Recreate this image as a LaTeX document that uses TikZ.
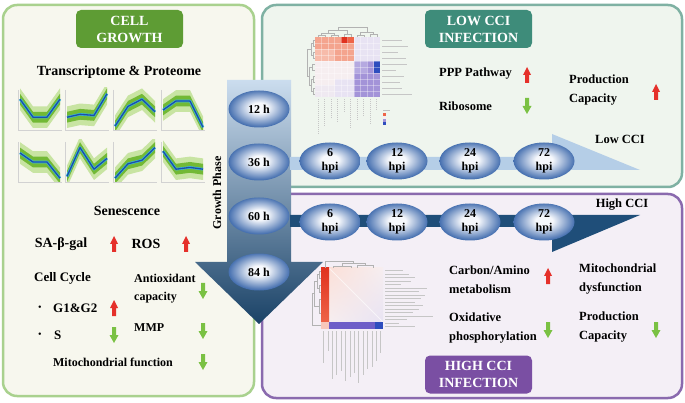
\documentclass[tikz,border=0pt]{standalone}
\usepackage{fontspec}
\setmainfont{Liberation Serif}
\usetikzlibrary{shapes.geometric,shadings,positioning}

\definecolor{growthline}{HTML}{A9D18E}
\definecolor{growthfill}{HTML}{F7F7EE}
\definecolor{growthtag}{HTML}{5E9C34}
\definecolor{lowline}{HTML}{7FB1A3}
\definecolor{lowfill}{HTML}{EFF5EE}
\definecolor{lowtag}{HTML}{3E8C7A}
\definecolor{highline}{HTML}{8A6AAE}
\definecolor{highfill}{HTML}{F4EFF6}
\definecolor{hightag}{HTML}{7A4FA3}
\definecolor{lowblue}{HTML}{B5CEE7}
\definecolor{highblue}{HTML}{1F4E79}
\definecolor{stagein}{HTML}{F6F8FC}
\definecolor{stageout}{HTML}{4670B0}
\definecolor{upred}{HTML}{E5302A}
\definecolor{downgreen}{HTML}{7AC143}
\definecolor{bandlight}{HTML}{C8E4A2}
\definecolor{bandgreen}{HTML}{72B935}
\definecolor{linelight}{HTML}{35B4E0}
\definecolor{linedark}{HTML}{1E4FA5}
\definecolor{hmpale}{HTML}{F6EEF0}
\definecolor{hmred}{HTML}{F4A48E}
\definecolor{hmdeep}{HTML}{E0321F}
\definecolor{hmmid}{HTML}{EE6448}
\definecolor{hmlav}{HTML}{E8E3F3}
\definecolor{hmpurple}{HTML}{A393D8}
\definecolor{hmblue}{HTML}{2E4DBE}
\definecolor{hmbar}{HTML}{6E5EC8}

\pgfdeclareradialshading{stageball}{\pgfpoint{0bp}{2bp}}{color(0bp)=(stagein); color(7bp)=(stagein); color(25bp)=(stageout); color(50bp)=(stageout)}

\newcommand{\trendplot}[6]{%
  \begin{scope}[shift={(#1,#2)}]
    \draw[gray!35,line width=.3pt] (0,2) -- (0,42) -- (44,42);
    \begin{scope}
      \clip (1,0) rectangle (44,42);
      \foreach \w/\c in {.3/bandlight,.15/bandgreen}
        \fill[\c] (2,{40-36*(#3+\w)}) -- (15,{40-36*(#4+\w)}) -- (29,{40-36*(#5+\w)}) -- (42,{40-36*(#6+\w)})
          -- (42,{40-36*(#6-\w)}) -- (29,{40-36*(#5-\w)}) -- (15,{40-36*(#4-\w)}) -- (2,{40-36*(#3-\w)}) -- cycle;
    \end{scope}
    \draw[linelight,line width=2.6pt,line join=round] (2,{40-36*#3}) -- (15,{40-36*#4}) -- (29,{40-36*#5}) -- (42,{40-36*#6});
    \draw[linedark,line width=1.3pt,line join=round] (2,{40-36*#3}) -- (15,{40-36*#4}) -- (29,{40-36*#5}) -- (42,{40-36*#6});
  \end{scope}}

\begin{document}
\begin{tikzpicture}[x=1pt,y=-1pt,
  panel/.style={rounded corners=14pt,line width=2.5pt},
  tag/.style={rounded corners=5pt,text=white,align=center,minimum width=107pt,minimum height=38pt,font=\fontsize{14}{17}\selectfont\bfseries},
  stage/.style={ellipse,minimum width=61pt,minimum height=37pt,inner sep=0pt,shading=stageball,align=center,font=\fontsize{12}{14}\selectfont\bfseries},
  head/.style={font=\fontsize{14}{16}\selectfont\bfseries},
  txt/.style={inner sep=0pt,anchor=west,align=left,font=\fontsize{12.5}{19}\selectfont\bfseries},
  small/.style={inner sep=0pt,anchor=west,align=left,font=\fontsize{12}{18}\selectfont\bfseries},
  dendro/.style={gray!60,line width=.3pt},
  lbl/.style={gray!45,line width=.6pt,dash pattern=on 1.5pt off .5pt},
  uparrow/.pic={\fill[upred] (-2,8) -- (-2,0) -- (-4,0) -- (0,-8) -- (4,0) -- (2,0) -- (2,8) -- cycle;},
  downarrow/.pic={\fill[downgreen] (-2,-8) -- (-2,0) -- (-4.5,0) -- (0,8) -- (4.5,0) -- (2,0) -- (2,-8) -- cycle;}]
\useasboundingbox (0,0) rectangle (685,403);
\fill[white] (0,0) rectangle (685,403);

\draw[panel,growthline,fill=growthfill] (3,5) rectangle (254,396);
\draw[panel,lowline,fill=lowfill] (262,5) rectangle (682,187);
\draw[panel,highline,fill=highfill] (262,194) rectangle (682,398);

\node[tag,fill=growthtag] (growthtag) at (129.5,29) {CELL\\GROWTH};
\node[tag,fill=lowtag] (lowtag) at (478.5,29) {LOW CCI\\INFECTION};
\node[tag,fill=hightag] (hightag) at (478.5,374.5) {HIGH CCI\\INFECTION};

\node[head] (omics) at (119,72) {Transcriptome \& Proteome};
\trendplot{18}{88}{.8}{.3}{.3}{.8}
\trendplot{65}{88}{.3}{.38}{.35}{.95}
\trendplot{113}{88}{.05}{.6}{.8}{.45}
\trendplot{161}{88}{.5}{.75}{.75}{.02}
\trendplot{18}{140}{.75}{.5}{.5}{.05}
\trendplot{65}{140}{.1}{.9}{.3}{.6}
\trendplot{113}{140}{.05}{.45}{.55}{.9}
\trendplot{161}{140}{.8}{.3}{.35}{.3}

\node[head] (senescence) at (127,211) {Senescence};
\node[head] (sagal) at (61,244) {SA-β-gal};
\pic at (114,244) {uparrow};
\node[head] (ros) at (146,244) {ROS};
\pic at (186,244) {uparrow};
\node[txt,font=\fontsize{13}{15}\selectfont\bfseries] (cellcycle) at (34,278) {Cell Cycle};
\node[small] (antiox) at (134,289) {Antioxidant\\capacity};
\pic at (203,291) {downarrow};
\node (bulletg) at (40,308) {•};
\node[txt,font=\fontsize{13}{15}\selectfont\bfseries] (g1g2) at (53,308) {G1\&G2};
\pic at (114,308) {uparrow};
\node (bullets) at (40,335) {•};
\node[txt,font=\fontsize{13}{15}\selectfont\bfseries] (sphase) at (54,335) {S};
\pic at (114,335) {downarrow};
\node[small] (mmp) at (134,328) {MMP};
\pic at (203,331) {downarrow};
\node[font=\fontsize{12}{14}\selectfont\bfseries] (mitofunc) at (113,362) {Mitochondrial function};
\pic at (203,362) {downarrow};

\begin{scope}[shift={(315,37)}]
  \fill[hmpale] (0,0) rectangle (65,60);
  \fill[hmlav] (39,0) rectangle (65,24);
  \fill[hmlav] (19.5,42) rectangle (39,60);
  \fill[hmlav!50!hmpale] (0,48) rectangle (19.5,60);
  \fill[hmred] (0,0) rectangle (39,24);
  \fill[hmred!75!white] (0,12) rectangle (19.5,24);
  \fill[hmdeep] (26,0) rectangle (32.5,6);
  \fill[hmmid] (32.5,0) rectangle (39,6);
  \fill[hmpurple] (39,24) rectangle (65,60);
  \fill[hmpurple!80!white] (39,24) rectangle (52,36);
  \fill[hmblue] (58.5,24) rectangle (65,36);
  \foreach \i in {1,...,9} {
    \draw[white,opacity=.35,line width=.2pt] ({6.5*\i},0) -- ({6.5*\i},60);
    \draw[white,opacity=.35,line width=.2pt] (0,{6*\i}) -- (65,{6*\i});
  }
  \draw[dendro] (3.25,0) |- (9.75,-2) -- (9.75,0);
  \draw[dendro] (16.25,0) |- (22.75,-2) -- (22.75,0);
  \draw[dendro] (6.5,-2) |- (19.5,-4) -- (19.5,-2);
  \draw[dendro] (29.25,0) |- (35.75,-3) -- (35.75,0);
  \draw[dendro] (13,-4) |- (32.5,-7) -- (32.5,-3);
  \draw[dendro] (42.25,0) |- (48.75,-2) -- (48.75,0);
  \draw[dendro] (55.25,0) |- (61.75,-3) -- (61.75,0);
  \draw[dendro] (45.5,-2) |- (58.5,-5) -- (58.5,-3);
  \draw[dendro] (22.75,-7) |- (52,-10) -- (52,-5);
  \draw[dendro] (0,3) -| (-2,9) -- (0,9);
  \draw[dendro] (0,15) -| (-2,21) -- (0,21);
  \draw[dendro] (-2,6) -| (-4,18) -- (-2,18);
  \draw[dendro] (0,27) -| (-3,33) -- (0,33);
  \draw[dendro] (0,39) -| (-2,45) -- (0,45);
  \draw[dendro] (0,51) -| (-2,57) -- (0,57);
  \draw[dendro] (-2,42) -| (-4,54) -- (-2,54);
  \draw[dendro] (-3,30) -| (-6,48) -- (-4,48);
  \draw[dendro] (-4,12) -| (-8,39) -- (-6,39);
  \foreach \l [count=\r] in {20,26,16,24,25,14,22,18,20,30}
    \draw[lbl] (67,{6*\r-3}) -- ++(\l,0);
  \foreach \l [count=\c] in {36,28,20,24,14,30,22,18,26,12}
    \draw[lbl] ({6.5*\c-3.25},62) -- ++(0,\l);
  \fill[gray!50] (68,73) rectangle (75,74.5);
  \fill[hmmid] (68,76) rectangle (71,79);
  \fill[hmpale] (68,79) rectangle (71,82);
  \fill[hmpurple] (68,82) rectangle (71,85);
  \fill[hmblue] (68,85) rectangle (71,88);
\end{scope}

\node[txt] (ppp) at (439,74) {PPP Pathway};
\pic at (527,75) {uparrow};
\node[txt] (ribosome) at (439,106) {Ribosome};
\pic at (527,106) {downarrow};
\node[txt] (lowprod) at (569,90.5) {Production\\Capacity};
\pic at (656,92) {uparrow};
\node[txt,anchor=center] (lowcci) at (620,139) {Low CCI};
\node[txt,anchor=center] (highcci) at (622,205) {High CCI};

\begin{scope}[shift={(321,268)}]
  \shade[upper left=hmred!35!white,lower right=hmlav,upper right=hmpale,lower left=hmpale] (8,0) rectangle (62,54);
  \draw[white,opacity=.6,line width=.8pt] (8,0) -- (62,54);
  \shade[top color=hmdeep,bottom color=hmmid] (0,0) rectangle (8,54);
  \fill[hmred!60!white] (0,54) rectangle (8,61);
  \fill[hmbar] (8,54) rectangle (54,61);
  \fill[hmblue] (54,54) rectangle (62,61);
  \draw[dendro] (0,3) -| (-2,10) -- (0,10);
  \draw[dendro] (0,17) -| (-2,24) -- (0,24);
  \draw[dendro] (-2,6) -| (-4,20) -- (-2,20);
  \draw[dendro] (0,31) -| (-2,45) -- (0,45);
  \draw[dendro] (-4,13) -| (-7,38) -- (-2,38);
  \draw[dendro] (0,57) -| (-9,25) -- (-7,25);
  \draw[dendro] (12,0) |- (30,-2) -- (30,0);
  \draw[dendro] (36,0) |- (52,-3) -- (52,0);
  \draw[dendro] (21,-2) |- (44,-5) -- (44,-3);
  \draw[dendro] (4,0) |- (32,-7) -- (32,-5);
  \foreach \l [count=\r] in {18,24,30,26,16,42,34,40,36,30,38,34,28,48,22,14,30}
    \draw[lbl] (64,{3.5*\r-1}) -- ++(\l,0);
  \foreach \l [count=\c] in {32,20,48,44,40,50,46,42,52,44,38,36,30,22}
    \draw[lbl] ({4.4*\c-2},63) -- ++(0,\l);
\end{scope}

\node[txt] (carbon) at (449,279.5) {Carbon/Amino\\metabolism};
\pic at (548,276) {uparrow};
\node[txt] (oxphos) at (449,328.5) {Oxidative\\phosphorylation};
\pic at (548,330) {downarrow};
\node[txt] (mitodys) at (579,279.5) {Mitochondrial\\dysfunction};
\node[txt] (highprod) at (579,327.5) {Production\\Capacity};
\pic at (656,330) {downarrow};

\shade[top color=lowblue!70!white,middle color=lowblue!60!stageout,bottom color=highblue!85!black]
  (227,80) -- (291,80) -- (291,262) -- (323,262) -- (259,324) -- (195,262) -- (227,262) -- cycle;
\node[rotate=90,font=\fontsize{12}{14}\selectfont\bfseries] (phase) at (217,193) {Growth Phase};

\fill[lowblue] (290,157) -- (552,157) -- (552,134) -- (640,170) -- (290,170) -- cycle;
\fill[highblue] (290,215) -- (640,215) -- (552,252) -- (552,227) -- (290,227) -- cycle;

\foreach \t/\y in {12/109,36/162,60/216,84/272}
  \node[stage] (h\t) at (259,\y) {\t\ h};
\foreach \t/\x in {6/330,12/397,24/470,72/544} {
  \node[stage] (low\t) at (\x,161) {\t\\hpi};
  \node[stage] (high\t) at (\x,222) {\t\\hpi};
}
\end{tikzpicture}
\end{document}
